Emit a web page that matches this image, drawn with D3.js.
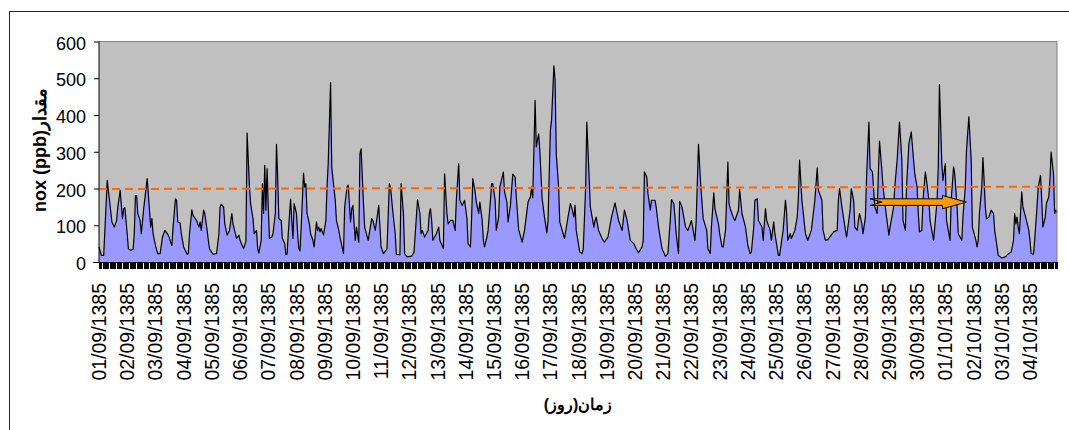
<!DOCTYPE html>
<html><head><meta charset="utf-8">
<script src="https://cdn.jsdelivr.net/npm/d3@7"></script>
<style>
body{margin:0;background:#fff}
text{font-family:Arial,"Liberation Sans",sans-serif}
</style>
</head><body>
<svg id="c" width="1069" height="430"></svg>
<script>
// hour index (0 = 01/09/1385 00:00) of each read point
const hours=[0,2,4,7,11,13,15,16,18,20,21,22,24,25,27,29,30,31,32,33,35,36,38,41,44,45,46,48,50,52,54,56,59,62,63,65,66,67,69,70,72,75,76,77,79,80,83,85,86,87,89,90,92,93,94,97,100,102,103,104,106,107,109,111,113,114,116,117,119,120,123,125,126,128,129,131,132,134,135,136,138,139,140,141,142,143,144,145,147,148,150,151,152,153,155,156,158,159,160,161,163,164,165,166,168,169,170,171,172,174,175,176,177,179,180,182,183,185,186,187,188,189,191,193,194,195,197,198,199,201,202,204,205,208,209,211,212,214,215,216,218,219,221,222,223,225,226,229,232,233,235,238,239,240,242,245,247,248,250,252,253,256,257,259,260,262,266,268,270,271,273,274,275,277,280,281,282,283,284,287,289,290,293,294,296,297,299,301,303,304,306,307,309,311,313,314,316,317,318,320,321,323,324,326,327,328,330,331,333,334,335,337,338,340,341,344,345,347,348,350,352,354,355,357,360,362,365,367,368,369,371,372,374,375,377,379,381,382,384,385,387,388,389,391,392,396,399,401,402,404,405,406,409,411,412,414,415,416,418,421,422,423,425,428,430,433,436,439,442,445,446,447,449,452,455,457,459,462,463,464,466,467,469,470,473,474,476,479,482,484,486,487,489,490,491,493,494,496,499,501,504,506,507,508,510,512,514,517,518,520,521,523,524,527,528,530,531,533,535,536,537,540,541,544,545,547,550,552,554,555,557,558,560,561,564,565,567,568,571,572,574,575,578,579,582,584,585,586,588,589,592,594,595,596,598,601,603,606,609,611,612,615,616,618,620,625,628,629,630,632,635,636,639,640,642,643,645,646,647,649,650,652,653,655,656,658,660,662,663,664,666,667,670,672,673,676,677,679,681,683,684,686,687,689,691,693,694,696,697,698,700,701,703,704,706,707,710,711,713,714,715,717,718,720,721,724,725,727,728,730,731,734,735,737,738,740,742,743,746,747,748,749,751,752,753,754,755,757,759,761,762,764,765,768,771,774,776,778,779,780,781,782,783,785,786,789,791,792,793,795,796,798,799,801,802,803,805,806,808,809,810,812,813,814,815];
// nox (ppb) at those hours
const nox=[41,18,18,222,109,95,113,150,195,118,145,148,77,36,32,34,77,181,181,132,113,77,145,227,95,118,77,45,23,23,68,86,73,45,95,172,168,109,106,77,41,21,23,77,142,127,113,95,109,86,141,132,86,59,36,21,23,77,150,157,150,104,73,86,132,104,77,64,73,59,36,57,351,204,159,118,77,86,36,24,59,213,132,263,141,254,150,64,68,77,132,320,231,118,113,64,50,20,21,77,171,113,64,159,132,77,36,30,95,242,204,213,132,104,77,59,41,109,86,95,82,91,73,113,204,268,488,259,227,168,113,86,68,23,150,204,209,109,145,154,59,95,54,295,308,159,95,59,118,113,86,154,95,41,23,36,213,204,136,77,21,20,213,132,23,14,16,27,122,170,132,77,86,68,86,132,145,113,59,77,95,59,36,240,132,104,113,113,86,168,268,168,154,168,118,50,41,122,227,191,163,132,163,113,59,41,68,86,168,213,213,168,86,122,204,245,191,163,109,154,239,231,177,88,54,86,163,177,204,175,440,313,349,304,172,122,79,113,358,386,534,495,295,204,109,64,122,159,150,122,154,86,27,23,36,204,381,304,150,95,113,122,86,64,54,68,122,161,113,86,113,141,118,59,50,36,25,41,59,245,231,186,141,168,168,150,95,36,15,23,113,170,159,122,77,23,165,150,95,86,113,77,59,109,320,204,118,86,36,23,95,188,145,104,77,41,41,86,272,159,145,118,113,141,198,132,95,45,23,27,95,168,172,113,95,59,145,113,86,59,109,77,18,18,86,168,132,59,77,64,86,122,177,277,168,77,59,86,168,256,195,168,86,59,61,82,86,168,200,150,86,68,141,200,168,95,86,113,132,104,77,122,231,381,254,245,150,132,240,329,250,204,122,73,95,150,204,277,381,277,113,86,204,322,354,277,240,204,132,82,86,168,245,222,168,113,59,95,168,259,483,268,222,268,113,59,168,259,240,150,77,59,122,204,304,395,277,95,59,41,59,132,204,284,222,150,118,122,141,132,86,41,18,11,14,23,27,59,132,104,122,95,77,191,150,113,86,59,23,21,59,150,204,236,168,95,122,159,177,222,299,240,132,141,135];
const dayLabels=["01/09/1385","02/09/1385","03/09/1385","04/09/1385","05/09/1385","06/09/1385","07/09/1385","08/09/1385","09/09/1385","10/09/1385","11/09/1385","12/09/1385","13/09/1385","14/09/1385","15/09/1385","16/09/1385","17/09/1385","18/09/1385","19/09/1385","20/09/1385","21/09/1385","22/09/1385","23/09/1385","24/09/1385","25/09/1385","26/09/1385","27/09/1385","28/09/1385","29/09/1385","30/09/1385","01/10/1385","02/10/1385","03/10/1385","04/10/1385"];
const yTicks=[0,100,200,300,400,500,600];
const trendHours=[0,815];
const trendValues=[198.5,205];
const arrowHours=[656,738];
const arrowValue=163;
const hoursPerDay=24;
const totalHours=816;

const svg=d3.select("#c");
const L=99,R=1057,T=41.5,B=262;
const x=d3.scaleLinear().domain([0,totalHours-1]).range([L,R]);
const y=d3.scaleLinear().domain([0,600]).range([B,T]);

// outer frame
svg.append("rect").attr("x",9.5).attr("y",11.5).attr("width",1100).attr("height",500)
  .attr("fill","none").attr("stroke","#222").attr("stroke-width",1);

// plot background
svg.append("rect").attr("x",L).attr("y",T).attr("width",R-L).attr("height",B-T).attr("fill","#C0C0C0");

const pts=hours.map((h,i)=>({h,v:nox[i]}));
svg.append("path").datum(pts)
  .attr("d",d3.area().x(d=>x(d.h)).y0(y(0)).y1(d=>y(d.v)))
  .attr("fill","#9999FF");
svg.append("path").datum(pts)
  .attr("d",d3.line().x(d=>x(d.h)).y(d=>y(d.v)))
  .attr("fill","none").attr("stroke","#000").attr("stroke-width",1.2).attr("stroke-linejoin","round");

// trend dashed line
svg.append("line")
  .attr("x1",x(trendHours[0])).attr("y1",y(trendValues[0]))
  .attr("x2",x(trendHours[1])).attr("y2",y(trendValues[1]))
  .attr("stroke","#FF6600").attr("stroke-width",2).attr("stroke-dasharray","8,5");

// plot border top/right
svg.append("path").attr("d",`M${L},${T}H${R}V${B}`).attr("fill","none").attr("stroke","#808080").attr("stroke-width",1);

// arrow
{
  const x0=x(arrowHours[0]), x1=x(arrowHours[1]), yc=y(arrowValue);
  const bh=3.3, hh=6.6, hl=24, notch=12;
  const p=[[x0,yc-bh],[x1-hl,yc-bh],[x1-hl,yc-hh],[x1,yc],[x1-hl,yc+hh],[x1-hl,yc+bh],[x0,yc+bh],[x0+notch,yc]];
  svg.append("path").attr("d",d3.line()(p)+"Z").attr("fill","#FF9900").attr("stroke","#000").attr("stroke-width",1);
}

// x axis line + category ticks
svg.append("line").attr("x1",L-6).attr("x2",R).attr("y1",B+0.5).attr("y2",B+0.5).attr("stroke","#000");
svg.append("g").selectAll("line").data(d3.range(totalHours)).join("line")
  .attr("x1",d=>Math.round(x(d))+0.5).attr("x2",d=>Math.round(x(d))+0.5)
  .attr("y1",B).attr("y2",B+7).attr("stroke","#000").attr("stroke-width",1)
  .attr("shape-rendering","crispEdges");

// x labels
svg.append("g").selectAll("text").data(dayLabels).join("text")
  .attr("transform",(d,i)=>`translate(${x(i*hoursPerDay)},283) rotate(-90)`)
  .attr("text-anchor","end").attr("dy","0.36em")
  .attr("font-size","19.5px").attr("fill","#000").text(d=>d);

// y axis
const ya=svg.append("g").attr("transform",`translate(${L},0)`)
  .call(d3.axisLeft(y).tickValues(yTicks).tickSize(5).tickPadding(8));
ya.select(".domain").attr("stroke","#000").attr("d",`M0,${T}V${B}`);
ya.selectAll(".tick line").attr("stroke","#000");
ya.selectAll(".tick text").attr("font-size","18px").attr("font-family","Arial, 'Liberation Sans', sans-serif").attr("dy","0.42em").attr("fill","#000");

// axis titles
svg.append("text").attr("transform","translate(40,150) rotate(-90)")
  .attr("text-anchor","middle").attr("dy","0.36em")
  .attr("font-size","18px").attr("font-weight","bold").text("nox (ppb)مقدار");
svg.append("text").attr("x",(L+R)/2).attr("y",410)
  .attr("text-anchor","middle").attr("font-size","16px").attr("font-weight","bold")
  .text("\u200Fزمان(روز)\u200F");
</script>
</body></html>
